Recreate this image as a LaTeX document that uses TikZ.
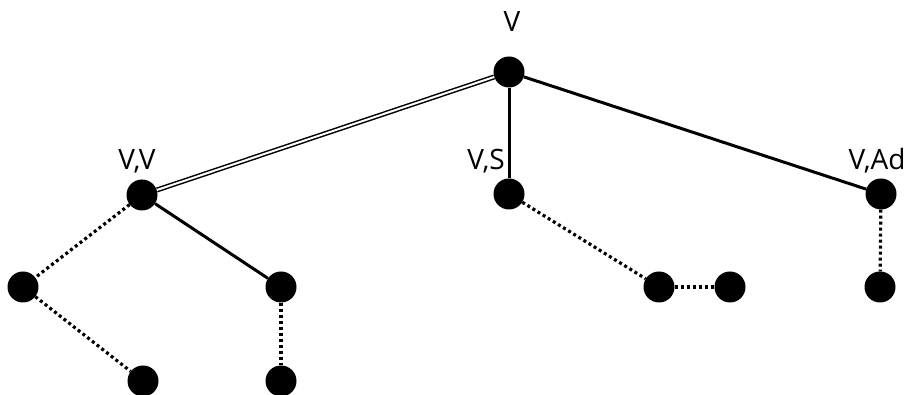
\documentclass[tikz,border=0pt]{standalone}
\usepackage{fontspec}
\setmainfont{Open Sans}
\begin{document}
\begin{tikzpicture}[x=1pt,y=1pt,
  vertex/.style={circle,fill=black,inner sep=0pt,minimum size=31pt},
  lbl/.style={anchor=base,inner sep=0pt,font=\fontsize{28}{30}\selectfont},
  solidedge/.style={line width=3pt},
  dotedge/.style={line width=3.2pt,dash pattern=on 3pt off 3pt},
  dbledge/.style={line width=1.5pt,double=white,double distance=2pt}]
\useasboundingbox (0,0) rectangle (908,395);
% vertices
\node[vertex] (root) at (509,323) {};
\node[vertex] (vv)   at (142,200) {};
\node[vertex] (vs)   at (509,201) {};
\node[vertex] (vad)  at (881,201) {};
\node[vertex] (l1)   at (23,108) {};
\node[vertex] (l2)   at (281,108) {};
\node[vertex] (l3)   at (143,14) {};
\node[vertex] (l4)   at (281,14) {};
\node[vertex] (s1)   at (659,108) {};
\node[vertex] (s2)   at (730,108) {};
\node[vertex] (a1)   at (880,108) {};
% labels
\node[lbl] (troot) at (512,363) {V};
\node[lbl] (tvv)   at (137,225) {V,V};
\node[lbl] (tvs)   at (486,225) {V,S};
\node[lbl] (tvad)  at (877,225) {V,Ad};
% edges
\draw[dbledge] (root) -- (vv);
\draw[solidedge] (root) -- (vs);
\draw[solidedge] (root) -- (vad);
\draw[solidedge] (vv) -- (l2);
\draw[dotedge] (vv) -- (l1);
\draw[dotedge] (l1) -- (l3);
\draw[dotedge] (l2) -- (l4);
\draw[dotedge] (vs) -- (s1);
\draw[dotedge] (s1) -- (s2);
\draw[dotedge] (vad) -- (a1);
\end{tikzpicture}
\end{document}
